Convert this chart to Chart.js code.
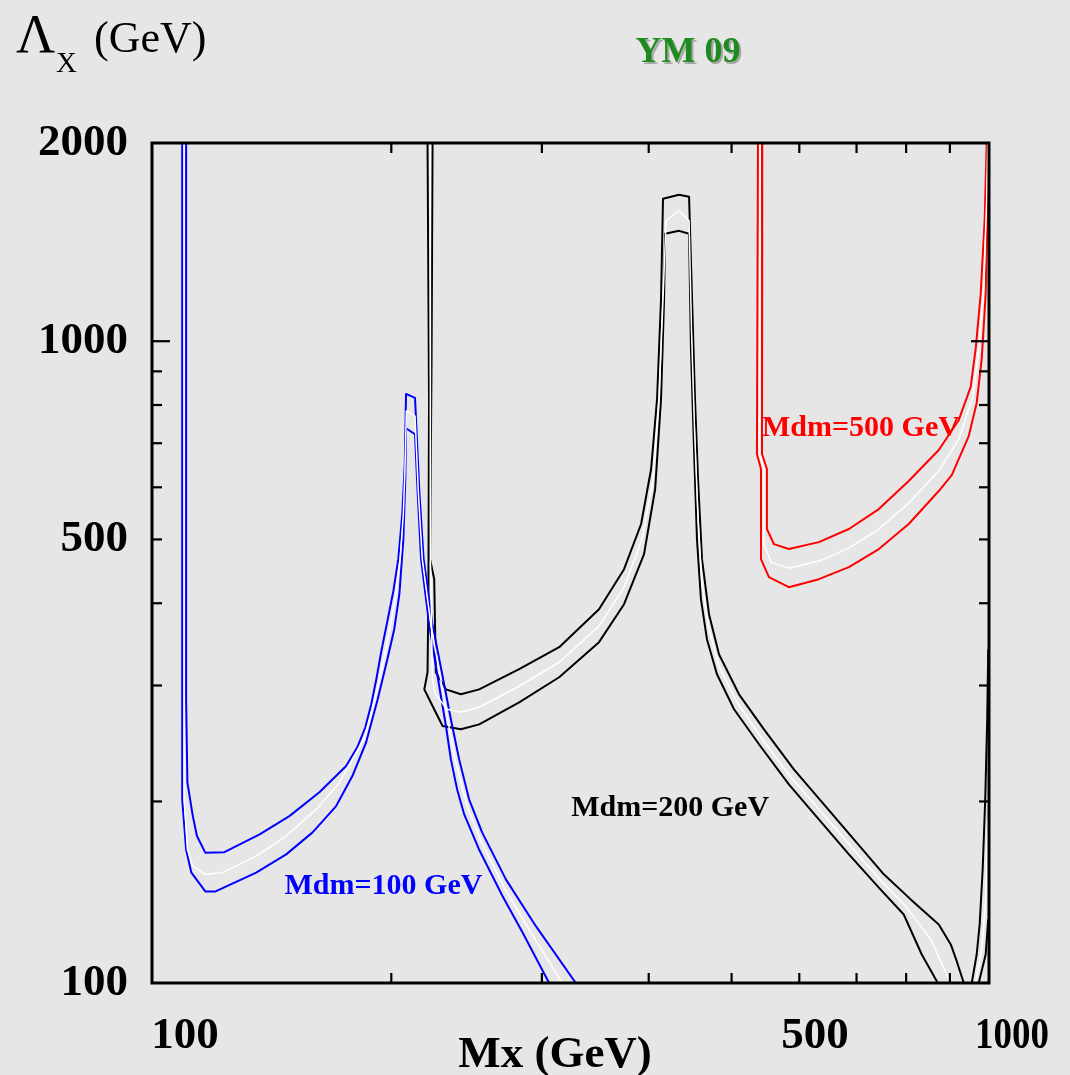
<!DOCTYPE html>
<html>
<head>
<meta charset="utf-8">
<script src="https://cdn.jsdelivr.net/npm/chart.js@4.4.1/dist/chart.umd.min.js"></script>
<style>
html,body{margin:0;padding:0;background:#e6e6e6;}
canvas{display:block;}
</style>
</head>
<body>
<canvas id="c" width="1070" height="1075"></canvas>
<script>
// ---------------- data (Mx in GeV, Lambda_X in GeV) ----------------
const blueUpperX = [115.1,115.1,115.5,117.2,118.5,121.2,127.6,140.3,152.0,164.8,177.1,182.5,186.5,189.5,192.1,194.7,197.9,201.1,203.8,206.0,207.4,208.1,213.2,215.7,218.2,223.6,229.6,234.8,240.1,246.6,255.4,272.3,295.2,328.7];
const blueUpperY = [2000,285.9,213.8,190.0,177.2,167.2,167.5,178.2,190.0,206.5,226.4,241.7,259.2,280.9,306.7,338.2,375.7,417.2,466.7,546.4,651.0,831.8,820.1,590.0,466.7,369.6,310.1,266.6,231.7,201.5,179.5,152.3,129.3,106];
const blueLowerX = [113.9,113.9,115.1,116.7,121.2,124.6,139.0,150.7,161.8,172.4,180.1,186.9,192.8,197.9,201.6,204.4,206.6,207.7,208.1,213.2,214.7,216.7,221.6,226.5,231.7,234.8,238.8,243.4,253.3,269.9,284.8,305.9];
const blueLowerY = [2000,201.5,169.1,156.1,146.0,146.0,155.9,166.2,179.5,196.8,218.6,246.0,285.9,328.9,365.3,412.8,500.6,617.6,737.6,722.3,590.0,466.7,369.6,310.1,260.4,231.7,208.6,191.1,169.1,143.6,126.5,106];
const blueMidX = [114.5,114.5,115.5,117.2,121.2,127.0,139.0,150.7,163.4,173.9,185.7,189.4,192.8,196.8,200.0,202.5,204.8,206.6,207.5,208.3,213.2,215.1,217.4,222.6,228.1,233.1,237.5,245.3,254.7,271.1,289.9,316.8];
const blueMidY = [2000,201.5,169.1,159.5,155.0,155.9,165.2,177.2,194.5,213.6,248.6,271.3,298.1,338.2,375.7,412.8,466.7,546.4,639.6,783.4,769.8,590.0,466.7,369.6,310.1,263.8,231.7,196.8,173.9,148.0,127.8,106];

const blackUpperX = [223.5,222.9,222.0,224.5,225.5,231.7,241.2,253.4,282.2,314.3,349.9,374.3,391.9,402.6,409.1,413.5,415.7,424.8,434.0,445.9,449.5,453.1,456.8,461.7,470.5,483.3,510.1,545.6,591.3,641.1,695.0,753.4,809.9,873.5,902.2,917.0,934.4];
const blackUpperY = [2000,939.9,466.7,435.1,314.2,296.0,290.9,296.0,317.6,343.0,391.7,450.6,527.7,639.6,817.3,1159.5,1645.5,1657,1669,1657,1159.5,817.3,617.6,466.7,384.9,334.6,290.9,257.4,223.8,198.0,175.1,155.0,142.0,130.1,121.3,114.3,106];
const blackLowerX = [220.5,221.4,221.0,220.5,218.6,223.5,229.6,241.2,253.4,282.2,314.3,349.9,374.3,395.0,407.0,413.5,416.9,418.0,434.0,445.9,448.2,451.9,455.5,460.4,467.9,480.7,503.3,538.3,583.4,632.4,685.8,743.3,794.9,834.4,871.2];
const blackLowerY = [2000,817.3,405.7,314.2,296.0,279.3,260.4,257.4,261.9,282.9,308.8,349.1,398.6,474.9,596.4,817.3,1159.5,1455.9,1471,1455.9,973.4,686.0,500.6,405.7,352.7,312.0,276.1,244.3,212.3,187.9,166.2,148.0,134.7,117.1,106];
const blackMidX = [222.1,222.2,222.7,223.4,225.1,232.5,241.2,253.4,282.2,314.3,349.9,374.3,392.9,404.7,411.3,415.7,419.1,434.0,445.9,448.8,452.5,456.8,461.7,470.5,483.3,507.3,541.2,586.6,635.9,689.5,747.4,801.4,855.0,901.4];
const blackMidY = [2000,466.7,405.7,306.7,290.9,276.1,273.2,278.0,299.2,325.4,369.2,423.1,500.6,617.6,817.3,1159.5,1523.7,1578,1523.7,1044,735.9,537.0,427.6,365.3,321.0,282.9,250.3,217.6,193.2,170.9,151.7,138.0,123.4,106];
const blackEdgeAX = [954.6,967.4,975.2,983.1,989.9,995.2,997.9];
const blackEdgeAY = [106,117.1,130.1,157.7,201.5,266.6,340.6];
const blackEdgeBX = [972.7,991.1,997.9];
const blackEdgeBY = [106,117.1,132.4];
const blackEdgeMidX = [964.1,980.6,991.1,996.6];
const blackEdgeMidY = [106,119.2,142.0,187.9];

const redLowerX = [536.8,535.3,541.2,541.2,552.9,583.4,632.4,685.8,743.3,805.6,873.5,904.6,946.9,967.4,980.6,991.1,996.6,998.0];
const redLowerY = [2000,674.1,639.6,466.7,438.2,423.1,435.1,453.8,483.5,527.7,592.2,626.2,717.8,805.9,939.9,1180,1645.5,2000];
const redUpperX = [543.1,542.7,549.9,549.9,560.4,583.4,632.4,685.8,743.3,805.6,873.5,921.9,951.9,965.0,977.9,988.5,993.8];
const redUpperY = [2000,674.1,639.6,518.5,491.9,483.5,495.3,518.5,556.0,613.3,683.6,759.3,852.2,976.8,1180,1534,2000];
const redMidX = [540.0,538.9,545.6,545.6,555.9,583.4,632.4,685.8,743.3,805.6,873.5,921.9,957.2,972.7,985.8,993.8,996.6];
const redMidY = [2000,674.1,639.6,491.9,461.8,452.2,463.5,485.1,518.5,567.8,635.0,710.4,823.0,973.4,1201,1645.5,2000];

// axes and labels
const X_MIN = 105, X_MAX = 1000;
const Y_MIN = 106, Y_MAX = 2000;
const yTickValues = [Y_MIN, 500, 1000, 2000];
const yTickLabels = ['100', '500', '1000', '2000'];
const xTickLabels = ['100', '500', '1000'];
const minorTickValues = [200, 300, 400, 500, 600, 700, 800, 900];
const majorTickValuesY = [1000];
const curveLabels = ['Mdm=100 GeV', 'Mdm=200 GeV', 'Mdm=500 GeV'];
const curveLabelAtX = [150.0, 324.6, 542.7];
const curveLabelAtY = [144.5, 189.8, 717.8];

// ---------------- styles / layout ----------------
const BG = '#e6e6e6';
const BLUE = '#0000ff', BLACK = '#000000', RED = '#ff0000', WHITE = '#ffffff';
const labelColors = [BLUE, BLACK, RED];
const SERIF = '"Liberation Serif", "Times New Roman", serif';
const xLabelCenters = [185, 815, 1012];
const xLabelMaxWidths = [70, 70, 74];
const xLabelBaseline = 1048;

function pts(xs, ys) { return xs.map((x, i) => ({ x: x, y: ys[i] })); }
function line(xs, ys, color, w) {
  return { data: pts(xs, ys), borderColor: color, borderWidth: w, showLine: true,
           pointRadius: 0, pointHoverRadius: 0, fill: false, tension: 0, borderJoinStyle: 'round' };
}

const datasets = [
  line(blueMidX, blueMidY, WHITE, 1.5),
  line(blackMidX, blackMidY, WHITE, 1.5),
  line(blackEdgeMidX, blackEdgeMidY, WHITE, 1.5),
  line(redMidX, redMidY, WHITE, 1.5),
  line(blueUpperX, blueUpperY, BLUE, 2),
  line(blueLowerX, blueLowerY, BLUE, 2),
  line(blackUpperX, blackUpperY, BLACK, 2),
  line(blackLowerX, blackLowerY, BLACK, 2),
  line(blackEdgeAX, blackEdgeAY, BLACK, 2),
  line(blackEdgeBX, blackEdgeBY, BLACK, 2),
  line(redUpperX, redUpperY, RED, 2),
  line(redLowerX, redLowerY, RED, 2)
];

const decor = {
  id: 'decor',
  beforeDraw(chart) {
    const ctx = chart.ctx;
    ctx.save();
    ctx.fillStyle = BG;
    ctx.fillRect(0, 0, chart.width, chart.height);
    ctx.restore();
  },
  afterDraw(chart) {
    const ctx = chart.ctx, a = chart.chartArea, xs = chart.scales.x, ys = chart.scales.y;
    ctx.save();
    // frame
    ctx.strokeStyle = '#000';
    ctx.lineWidth = 3;
    ctx.strokeRect(a.left, a.top, a.right - a.left, a.bottom - a.top);
    // inward ticks
    ctx.lineWidth = 2.2;
    const seg = (x1, y1, x2, y2) => { ctx.beginPath(); ctx.moveTo(x1, y1); ctx.lineTo(x2, y2); ctx.stroke(); };
    minorTickValues.forEach(v => {
      const px = xs.getPixelForValue(v);
      seg(px, a.bottom, px, a.bottom - 10);
      seg(px, a.top, px, a.top + 10);
      const py = ys.getPixelForValue(v);
      seg(a.left, py, a.left + 10, py);
      seg(a.right, py, a.right - 10, py);
    });
    majorTickValuesY.forEach(v => {
      const py = ys.getPixelForValue(v);
      seg(a.left, py, a.left + 18, py);
      seg(a.right, py, a.right - 18, py);
    });
    // x tick labels
    ctx.fillStyle = '#000';
    ctx.textBaseline = 'alphabetic';
    ctx.textAlign = 'center';
    ctx.font = 'bold 45px ' + SERIF;
    xTickLabels.forEach((t, i) => ctx.fillText(t, xLabelCenters[i], xLabelBaseline, xLabelMaxWidths[i]));
    // x title
    ctx.fillText('Mx (GeV)', 555, 1067);
    // y title
    ctx.textAlign = 'left';
    ctx.font = '54px ' + SERIF;
    ctx.fillText('\u039B', 16, 52);
    ctx.font = '29px ' + SERIF;
    ctx.fillText('X', 56, 72);
    ctx.font = '44px ' + SERIF;
    ctx.fillText('(GeV)', 94, 52);
    // chart title
    ctx.textAlign = 'center';
    ctx.font = 'bold 36px ' + SERIF;
    ctx.fillStyle = 'rgba(150,150,150,0.8)';
    ctx.fillText('YM 09', 690, 64);
    ctx.fillStyle = '#1f8a1f';
    ctx.fillText('YM 09', 688, 62);
    // curve labels
    ctx.textAlign = 'left';
    ctx.font = 'bold 30px ' + SERIF;
    curveLabels.forEach((t, i) => {
      ctx.fillStyle = labelColors[i];
      ctx.fillText(t, xs.getPixelForValue(curveLabelAtX[i]), ys.getPixelForValue(curveLabelAtY[i]));
    });
    ctx.restore();
  }
};

new Chart(document.getElementById('c'), {
  type: 'scatter',
  data: { datasets: datasets },
  options: {
    responsive: false,
    animation: false,
    devicePixelRatio: 1,
    layout: { padding: { top: 143, right: 81, left: 0, bottom: 0 } },
    plugins: { legend: { display: false }, tooltip: { enabled: false } },
    scales: {
      x: {
        type: 'logarithmic', min: X_MIN, max: X_MAX, position: 'bottom',
        grid: { display: false, drawTicks: false }, border: { display: false },
        ticks: { display: false },
        afterFit(s) { s.height = 92; }
      },
      y: {
        type: 'logarithmic', min: Y_MIN, max: Y_MAX, position: 'left',
        grid: { display: false, drawTicks: false }, border: { display: false },
        afterBuildTicks(s) { s.ticks = yTickValues.map(v => ({ value: v })); },
        ticks: {
          autoSkip: false, padding: 24, color: '#000',
          font: { family: SERIF, size: 45, weight: 'bold' },
          callback: (v) => { const i = yTickValues.indexOf(v); return i >= 0 ? yTickLabels[i] : ''; }
        },
        afterFit(s) { s.width = 152; }
      }
    }
  },
  plugins: [decor]
});
</script>
</body>
</html>
